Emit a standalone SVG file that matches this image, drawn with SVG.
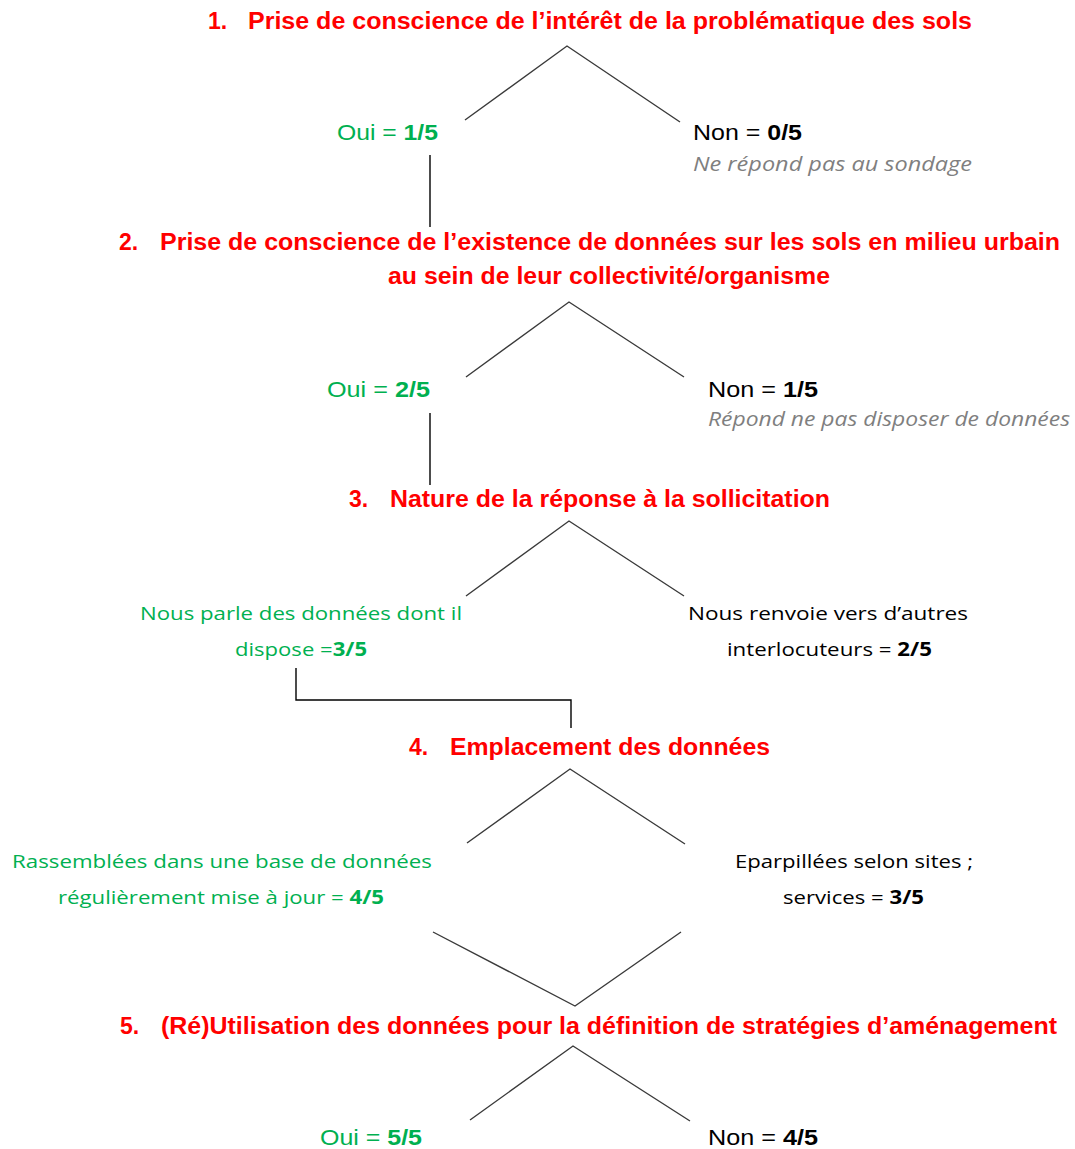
<svg xmlns="http://www.w3.org/2000/svg" width="1075" height="1149" viewBox="0 0 1075 1149">
<style>
.t{font-family:"Liberation Sans",Arial,sans-serif;font-weight:bold;font-size:23px;fill:#ff0000}
.a{font-family:"Liberation Sans",Arial,sans-serif;font-size:22px}
.g{fill:#00b050}
.k{fill:#000}
.b{font-weight:bold}
.i{font-family:"Open Sans",sans-serif;font-style:italic;font-size:20px;fill:#7f7f7f}
.c{font-family:"Open Sans",sans-serif;font-size:19px}
.ln{fill:none;stroke:#3a3a3a;stroke-width:1.4}
.el{fill:none;stroke:#000;stroke-width:1.4}
</style>
<rect width="1075" height="1149" fill="#fff"/>
<g id="q1">
<text class="t" x="208" y="29">1.</text>
<text class="t" x="248" y="29" textLength="724" lengthAdjust="spacingAndGlyphs">Prise de conscience de l’intérêt de la problématique des sols</text>
</g>
<g id="q1-oui"><text class="a g" x="337" y="140" textLength="101" lengthAdjust="spacingAndGlyphs">Oui = <tspan class="b">1/5</tspan></text></g>
<g id="q1-non">
<text class="a k" x="693" y="140" textLength="109" lengthAdjust="spacingAndGlyphs">Non = <tspan class="b">0/5</tspan></text>
<text class="i" x="693" y="171" textLength="279" lengthAdjust="spacingAndGlyphs">Ne répond pas au sondage</text>
</g>
<g id="q2">
<text class="t" x="119" y="250">2.</text>
<text class="t" x="160" y="250" textLength="900" lengthAdjust="spacingAndGlyphs">Prise de conscience de l’existence de données sur les sols en milieu urbain</text>
<text class="t" x="388" y="284" textLength="442" lengthAdjust="spacingAndGlyphs">au sein de leur collectivité/organisme</text>
</g>
<g id="q2-oui"><text class="a g" x="327" y="397" textLength="103" lengthAdjust="spacingAndGlyphs">Oui = <tspan class="b">2/5</tspan></text></g>
<g id="q2-non">
<text class="a k" x="708" y="397" textLength="110" lengthAdjust="spacingAndGlyphs">Non = <tspan class="b">1/5</tspan></text>
<text class="i" x="708" y="426" textLength="362" lengthAdjust="spacingAndGlyphs">Répond ne pas disposer de données</text>
</g>
<g id="q3">
<text class="t" x="349" y="507">3.</text>
<text class="t" x="390" y="507" textLength="440" lengthAdjust="spacingAndGlyphs">Nature de la réponse à la sollicitation</text>
</g>
<g id="q3-oui">
<text class="c g" x="140" y="620" textLength="322" lengthAdjust="spacingAndGlyphs">Nous parle des données dont il</text>
<text class="c g" x="235" y="656" textLength="132" lengthAdjust="spacingAndGlyphs">dispose =<tspan class="b">3/5</tspan></text>
</g>
<g id="q3-non">
<text class="c k" x="688" y="620" textLength="280" lengthAdjust="spacingAndGlyphs">Nous renvoie vers d’autres</text>
<text class="c k" x="727" y="656" textLength="205" lengthAdjust="spacingAndGlyphs">interlocuteurs = <tspan class="b">2/5</tspan></text>
</g>
<g id="q4">
<text class="t" x="409" y="755">4.</text>
<text class="t" x="450" y="755" textLength="320" lengthAdjust="spacingAndGlyphs">Emplacement des données</text>
</g>
<g id="q4-oui">
<text class="c g" x="12" y="868" textLength="420" lengthAdjust="spacingAndGlyphs">Rassemblées dans une base de données</text>
<text class="c g" x="58" y="904" textLength="326" lengthAdjust="spacingAndGlyphs">régulièrement mise à jour = <tspan class="b">4/5</tspan></text>
</g>
<g id="q4-non">
<text class="c k" x="735" y="868" textLength="238" lengthAdjust="spacingAndGlyphs">Eparpillées selon sites ;</text>
<text class="c k" x="783" y="904" textLength="141" lengthAdjust="spacingAndGlyphs">services = <tspan class="b">3/5</tspan></text>
</g>
<g id="q5">
<text class="t" x="120" y="1034">5.</text>
<text class="t" x="161" y="1034" textLength="896" lengthAdjust="spacingAndGlyphs">(Ré)Utilisation des données pour la définition de stratégies d’aménagement</text>
</g>
<g id="q5-oui"><text class="a g" x="320" y="1145" textLength="102" lengthAdjust="spacingAndGlyphs">Oui = <tspan class="b">5/5</tspan></text></g>
<g id="q5-non"><text class="a k" x="708" y="1145" textLength="110" lengthAdjust="spacingAndGlyphs">Non = <tspan class="b">4/5</tspan></text></g>
<g id="connectors">
<polyline class="ln" points="465,120 567,46 680,122"/>
<line class="el" x1="430" y1="155" x2="430" y2="227"/>
<polyline class="ln" points="466,377 569,302 684,377"/>
<line class="el" x1="430" y1="413" x2="430" y2="485"/>
<polyline class="ln" points="466,596 569,521 684,596"/>
<polyline class="el" points="296,668 296,700 571,700 571,728"/>
<polyline class="ln" points="467,843 570,769 685,844"/>
<polyline class="ln" points="433,932 575,1006 681,932"/>
<polyline class="ln" points="470,1120 573,1046 690,1121"/>
</g>
</svg>
